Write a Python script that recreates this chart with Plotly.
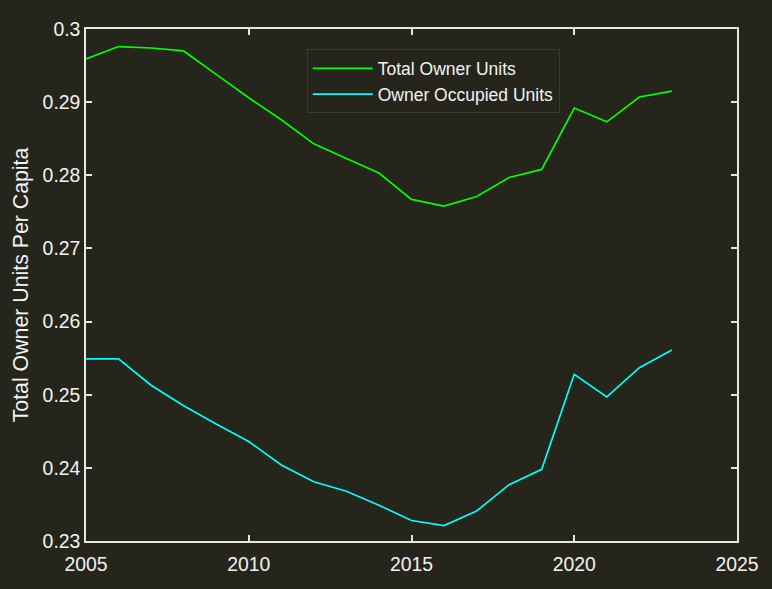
import plotly.graph_objects as go

years = list(range(2005, 2024))
total_owner_units = [0.2959, 0.2976, 0.2974, 0.2970, 0.2938, 0.2906, 0.2876, 0.2843,
                     0.2823, 0.2803, 0.2767, 0.2758, 0.2771, 0.2797, 0.2808, 0.2892,
                     0.2873, 0.2907, 0.2915]
owner_occupied_units = [0.2549, 0.2549, 0.2513, 0.2485, 0.2460, 0.2436, 0.2404, 0.2381,
                        0.2368, 0.2349, 0.2328, 0.2321, 0.2341, 0.2377, 0.2398, 0.2528,
                        0.2497, 0.2537, 0.2561]

x_ticks = [2005, 2010, 2015, 2020, 2025]
y_ticks = [0.23, 0.24, 0.25, 0.26, 0.27, 0.28, 0.29, 0.30]
y_ticktext = ["0.23", "0.24", "0.25", "0.26", "0.27", "0.28", "0.29", "0.3"]

BG = "#25251c"
FG = "#f2f2f2"
AX = "#e6e6e6"
FONT = "Liberation Sans, Arial, sans-serif"

fig = go.Figure()
fig.add_trace(go.Scatter(x=years, y=total_owner_units, mode="lines",
                         name="Total Owner Units",
                         line=dict(color="#00ff00", width=1.7)))
fig.add_trace(go.Scatter(x=years, y=owner_occupied_units, mode="lines",
                         name="Owner Occupied Units",
                         line=dict(color="#00ffff", width=1.7)))

axis_common = dict(showgrid=False, zeroline=False, showline=True, linecolor=AX,
                   linewidth=1.5, mirror="ticks", ticks="inside", ticklen=6,
                   tickwidth=1.5, tickcolor=AX,
                   tickfont=dict(family=FONT, size=19.4, color=FG))

fig.update_xaxes(range=[2005, 2025], tickvals=x_ticks, ticktext=[str(v) for v in x_ticks],
                 ticklabelstandoff=5, **axis_common)
fig.update_yaxes(range=[0.23, 0.30], tickvals=y_ticks, ticktext=y_ticktext,
                 title=dict(text="Total Owner Units Per Capita",
                            font=dict(family=FONT, size=21.3, color=FG), standoff=8),
                 **axis_common)

fig.update_layout(
    width=772, height=589,
    paper_bgcolor=BG, plot_bgcolor=BG,
    margin=dict(l=86, r=35, t=29, b=48),
    font=dict(family=FONT, size=17.5, color=FG),
    showlegend=True,
    legend=dict(x=0.339, y=0.96, xanchor="left", yanchor="top",
                bgcolor=BG, bordercolor="#3a3a30", borderwidth=1,
                font=dict(family=FONT, size=17.5, color=FG),
                itemwidth=60, tracegroupgap=0),
)

fig.write_html("out.html",
               config={"displayModeBar": False},
               post_script="document.body.style.margin='0';"
                           "document.body.style.background='" + BG + "';")
